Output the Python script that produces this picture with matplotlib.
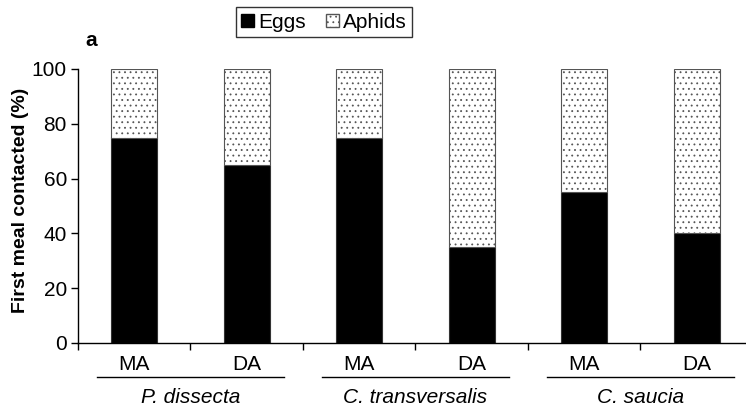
import matplotlib.pyplot as plt
import matplotlib as mpl
from matplotlib.patches import Patch

mpl.rcParams['font.family'] = ['Liberation Sans', 'DejaVu Sans']
mpl.rcParams['hatch.linewidth'] = 0.6
mpl.rcParams['hatch.color'] = '#444444'

# data
species = ['P. dissecta', 'C. transversalis', 'C. saucia']
treat = ['MA', 'DA', 'MA', 'DA', 'MA', 'DA']
eggs = [75, 65, 75, 35, 55, 40]
aphids = [100 - e for e in eggs]

fig = plt.figure(figsize=(7.46, 4.09), dpi=100)
ax = fig.add_axes([78/746, 1 - 343/409, (745 - 78)/746, (343 - 69)/409])

x = list(range(len(eggs)))
ax.bar(x, eggs, width=0.41, color='black', edgecolor='#333333', linewidth=0.8)
ax.bar(x, aphids, bottom=eggs, width=0.41, color='white', edgecolor='#555555',
       linewidth=0.8, hatch='...')

ax.set_xlim(-0.5, 5.43)
ax.set_ylim(0, 100)
ax.spines['top'].set_visible(False)
ax.spines['right'].set_visible(False)
ax.spines['left'].set_linewidth(1.0)
ax.spines['bottom'].set_linewidth(1.0)

ax.set_yticks([0, 20, 40, 60, 80, 100])
ax.tick_params(axis='y', labelsize=15, length=5, width=1, direction='out', pad=3)
ax.set_xticks([i - 0.5 for i in range(6)])
ax.set_xticklabels([])
ax.tick_params(axis='x', length=5, width=1, direction='out')

ax.set_ylabel('First meal contacted (%)', fontsize=14, fontweight='bold')
ax.yaxis.set_label_coords(-0.074, 0.52)

tr = ax.get_xaxis_transform()
for i, t in enumerate(treat):
    ax.text(i, -0.08, t, transform=tr, ha='center', va='center', fontsize=15)
for g, s in enumerate(species):
    x0 = 2 * g - 0.33
    x1 = 2 * g + 1.33
    ax.plot([x0, x1], [-0.125, -0.125], transform=tr, color='black', lw=1, clip_on=False)
    ax.text(2 * g + 0.5, -0.2, s, transform=tr, ha='center', va='center',
            fontsize=15, style='italic')

fig.text(85/746, 1 - 40/409, 'a', fontsize=15, fontweight='bold', ha='left', va='center')

handles = [Patch(facecolor='black', edgecolor='black', label='Eggs'),
           Patch(facecolor='white', edgecolor='#555555', hatch='...', label='Aphids')]
leg = fig.legend(handles=handles, loc='center', bbox_to_anchor=(324/746, 1 - 22/409),
                 ncol=2, frameon=True, fancybox=False, fontsize=15, handlelength=0.6,
                 handleheight=0.6, handletextpad=0.2, columnspacing=1.0,
                 borderpad=0.25, edgecolor='black')
leg.get_frame().set_linewidth(1.0)

fig.savefig('out.png', dpi=100)
